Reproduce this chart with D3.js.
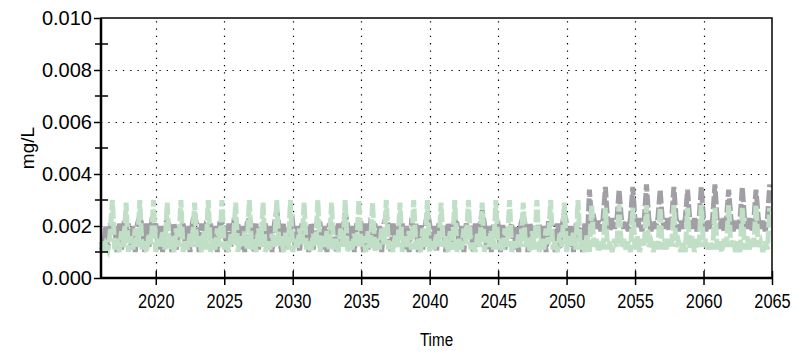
<!DOCTYPE html>
<html>
<head>
<meta charset="utf-8">
<script src="https://cdn.jsdelivr.net/npm/d3@7"></script>
<style>
  html, body { margin: 0; padding: 0; background: #fff; }
  svg { display: block; font-family: "Liberation Sans", Arial, sans-serif; }
</style>
</head>
<body>
<svg id="chart" width="797" height="357"></svg>
<script>
// Concentration time series, six samples per year starting 2016.0
// Values are stored in units of 0.0001 mg/L.
const startYear = 2016;
const samplesPerYear = 6;

const seriesGray = [
  12,10,20,11,21,16,  20,10,21,11,20,19,  21,11,20,10,21,24,  20,10,21,12,20,18,
  21,11,20,10,21,22,  20,10,21,11,20,17,  21,12,20,10,21,25,  20,10,21,11,20,19,
  21,11,20,10,21,21,  20,10,21,12,20,18,  21,11,20,10,21,23,  20,10,21,11,20,17,
  21,11,20,10,21,26,  20,10,21,11,20,19,  21,12,20,10,21,18,  20,10,21,11,20,22,
  21,11,20,10,21,17,  20,10,21,12,20,25,  21,11,20,10,21,19,  20,10,21,11,20,18,
  21,11,20,10,21,24,  20,10,21,12,20,17,  21,11,20,10,21,20,  20,10,21,11,20,25,
  21,12,20,10,21,18,  20,10,21,11,20,22,  21,11,20,10,21,17,  20,10,21,12,20,26,
  21,11,20,10,21,19,  20,10,21,11,20,18,  21,11,20,10,21,24,  20,10,21,12,20,17,
  21,11,20,10,21,21,  20,10,21,11,20,25,  21,12,20,10,21,18,  20,10,21,12,34,22,
  23,19,22,18,23,35,  22,18,23,19,22,34,  23,19,22,18,23,35,  22,19,23,18,22,36,
  23,18,22,19,23,34,  22,19,23,18,22,35,  23,18,22,19,23,34,  22,19,23,18,22,35,
  23,18,22,19,23,36,  22,19,23,18,22,34,  23,18,22,19,23,35,  22,19,23,18,22,34,
  23,19,22,18,23,36
];

const seriesGreen = [
  14,10,13,11,17,30,  11,15,10,18,12,29,  10,16,11,19,12,30,  11,14,10,17,13,30,
  10,15,12,18,11,29,  11,16,10,19,12,30,  10,14,11,17,12,29,  12,16,10,18,11,30,
  10,15,11,19,12,30,  11,14,10,17,13,29,  10,16,12,18,11,30,  11,15,10,19,12,29,
  10,14,11,17,12,30,  12,16,10,18,11,30,  10,15,11,19,13,29,  11,14,10,17,12,30,
  10,16,12,18,11,29,  11,15,10,19,12,30,  10,14,11,17,12,30,  12,16,10,18,11,29,
  10,15,11,19,13,30,  11,14,10,17,12,29,  10,16,12,18,11,30,  11,15,10,19,12,30,
  10,14,11,17,12,29,  12,16,10,18,11,30,  10,15,11,19,13,30,  11,14,10,17,12,29,
  10,16,12,18,11,30,  11,15,10,19,12,30,  10,14,11,17,12,29,  12,16,10,18,11,30,
  10,15,11,19,13,30,  11,14,10,17,12,29,  10,16,12,18,11,30,  11,15,10,17,10,28,
  12,15,10,14,11,27,  11,14,10,15,12,28,  12,15,11,14,10,27,  11,16,10,15,12,28,
  12,14,10,14,11,27,  11,15,11,15,12,28,  12,14,10,14,10,27,  11,16,10,15,12,28,
  12,15,11,14,11,27,  11,14,10,15,12,28,  12,15,10,14,10,27,  11,16,11,15,12,28,
  12,14,10,14,11,27
];

const yTickValues = [0, 0.002, 0.004, 0.006, 0.008, 0.010];
const yMinorValues = [0.001, 0.003, 0.005, 0.007, 0.009];
const xTickValues = [2020, 2025, 2030, 2035, 2040, 2045, 2050, 2055, 2060, 2065];

const svg = d3.select("#chart");
const margin = { left: 101, right: 25, top: 18, bottom: 79 };
const W = 797, H = 357;
const x0 = margin.left, x1 = W - margin.right;
const y0 = H - margin.bottom, y1 = margin.top;

const x = d3.scaleLinear().domain([startYear, 2065]).range([x0, x1]);
const y = d3.scaleLinear().domain([0, 0.010]).range([y0, y1]);

const toPoints = arr => arr.map((v, i) => ({ t: startYear + i / samplesPerYear, v: v * 1e-4 }));

// dotted grid
const grid = svg.append("g").attr("stroke", "#000").attr("stroke-width", 1.2)
  .attr("stroke-dasharray", "1.3,6");
grid.selectAll(".hg").data(yTickValues.filter(v => v > 0 && v < 0.010)).join("line")
  .attr("x1", x0).attr("x2", x1)
  .attr("y1", d => Math.round(y(d)) + 0.5).attr("y2", d => Math.round(y(d)) + 0.5);
grid.selectAll(".vg").data(xTickValues.filter(v => v < 2065)).join("line")
  .attr("y1", y0).attr("y2", y1)
  .attr("x1", d => Math.round(x(d)) + 0.5).attr("x2", d => Math.round(x(d)) + 0.5);

// series
const line = d3.line().x(d => x(d.t)).y(d => y(d.v));
const plot = svg.append("g");
plot.append("path").datum(toPoints(seriesGray))
  .attr("d", line).attr("fill", "none")
  .attr("stroke", "#a19fa5").attr("stroke-width", 5)
  .attr("stroke-dasharray", "13,3");
plot.append("path").datum(toPoints(seriesGreen))
  .attr("d", line).attr("fill", "none")
  .attr("stroke", "#c0dfc6").attr("stroke-width", 5)
  .attr("stroke-dasharray", "13,3");

// frame
svg.append("rect").attr("x", x0).attr("y", y1).attr("width", x1 - x0).attr("height", y0 - y1)
  .attr("fill", "none").attr("stroke", "#000").attr("stroke-width", 1.5);
svg.append("line").attr("x1", x0).attr("x2", x0).attr("y1", y1).attr("y2", y0)
  .attr("stroke", "#000").attr("stroke-width", 2.5);
svg.append("line").attr("x1", x0).attr("x2", x1).attr("y1", y0).attr("y2", y0)
  .attr("stroke", "#000").attr("stroke-width", 2.5);

// y axis
const yAxis = d3.axisLeft(y).tickValues(yTickValues).tickFormat(d3.format(".3f"))
  .tickSize(7).tickPadding(2);
const gy = svg.append("g").attr("transform", `translate(${x0},0)`).call(yAxis);
gy.select(".domain").remove();
gy.selectAll(".tick line").attr("stroke-width", 1.5);
gy.selectAll("text").attr("font-size", 20).attr("fill", "#000");
gy.selectAll(".minor").data(yMinorValues).join("line")
  .attr("x1", -6).attr("x2", 7)
  .attr("y1", d => y(d)).attr("y2", d => y(d))
  .attr("stroke", "#000").attr("stroke-width", 1.5);

// x axis (condensed labels)
const xAxis = d3.axisBottom(x).tickValues(xTickValues).tickFormat(d3.format("d"))
  .tickSize(7).tickPadding(9);
const gx = svg.append("g").attr("transform", `translate(0,${y0})`).call(xAxis);
gx.select(".domain").remove();
gx.selectAll(".tick line").attr("y1", -7).attr("stroke-width", 1.5);
gx.selectAll(".tick text").each(function () {
  const t = d3.select(this);
  t.attr("font-size", 20).attr("fill", "#000")
   .attr("transform", "scale(0.82,1)")
   .attr("x", 0);
});
gx.selectAll(".tick").each(function (d) {
  // keep the condensed label centred on its tick
  d3.select(this).select("text").attr("x", 0);
});

// axis titles
svg.append("text")
  .attr("transform", `translate(${(x0 + x1) / 2},346) scale(0.8,1)`)
  .attr("text-anchor", "middle").attr("font-size", 19)
  .text("Time");
svg.append("text")
  .attr("transform", `translate(34,${(y0 + y1) / 2}) rotate(-90)`)
  .attr("text-anchor", "middle").attr("font-size", 19).text("mg/L");
</script>
</body>
</html>
